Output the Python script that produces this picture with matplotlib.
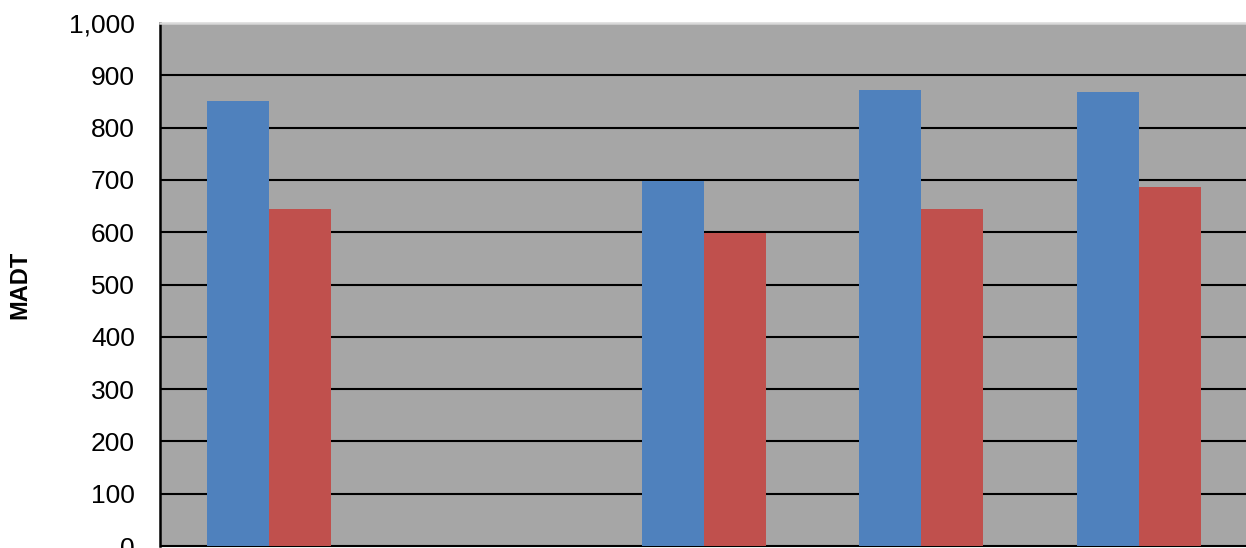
import numpy as np
import matplotlib.pyplot as plt

plt.rcParams["font.family"] = ["Liberation Sans", "DejaVu Sans"]

# categories (x labels fall outside the visible crop)
categories = ["A", "B", "C", "D", "E"]
series_blue = [851, np.nan, 698, 872, 868]
series_red = [644, np.nan, 598, 644, 686]
yticks = [0, 100, 200, 300, 400, 500, 600, 700, 800, 900, 1000]

W, H = 1246, 548
fig = plt.figure(figsize=(W / 100, H / 100), dpi=100)
ax = fig.add_axes([160 / W, 2 / H, 1087.5 / W, 523 / H])
ax.set_facecolor("#a6a6a6")

x = np.arange(len(categories))
bw = 62 / 217.5
ax.bar(x - bw / 2, series_blue, width=bw, color="#4f81bd", zorder=3)
ax.bar(x + bw / 2, series_red, width=bw, color="#c0504d", zorder=3)

ax.set_xlim(-0.5, len(categories) - 0.5)
ax.set_ylim(0, 1000)
ax.set_yticks(yticks)
ax.set_yticklabels([f"{v:,}" for v in yticks], fontsize=19)
ax.tick_params(axis="y", length=0, pad=18)
ax.set_xticks([])
ax.yaxis.grid(True, color="black", linewidth=1.5)
ax.set_axisbelow(True)

ax.spines["left"].set_color("black")
ax.spines["left"].set_linewidth(1.8)
ax.spines["top"].set_color("#d9d9d9")
ax.spines["top"].set_linewidth(1.8)
ax.spines["right"].set_visible(False)
ax.spines["bottom"].set_color("black")

ax.set_ylabel("MADT", fontsize=17, fontweight="bold")
ax.yaxis.set_label_coords(-0.118, 0.5)

fig.savefig("out.png", dpi=100)
